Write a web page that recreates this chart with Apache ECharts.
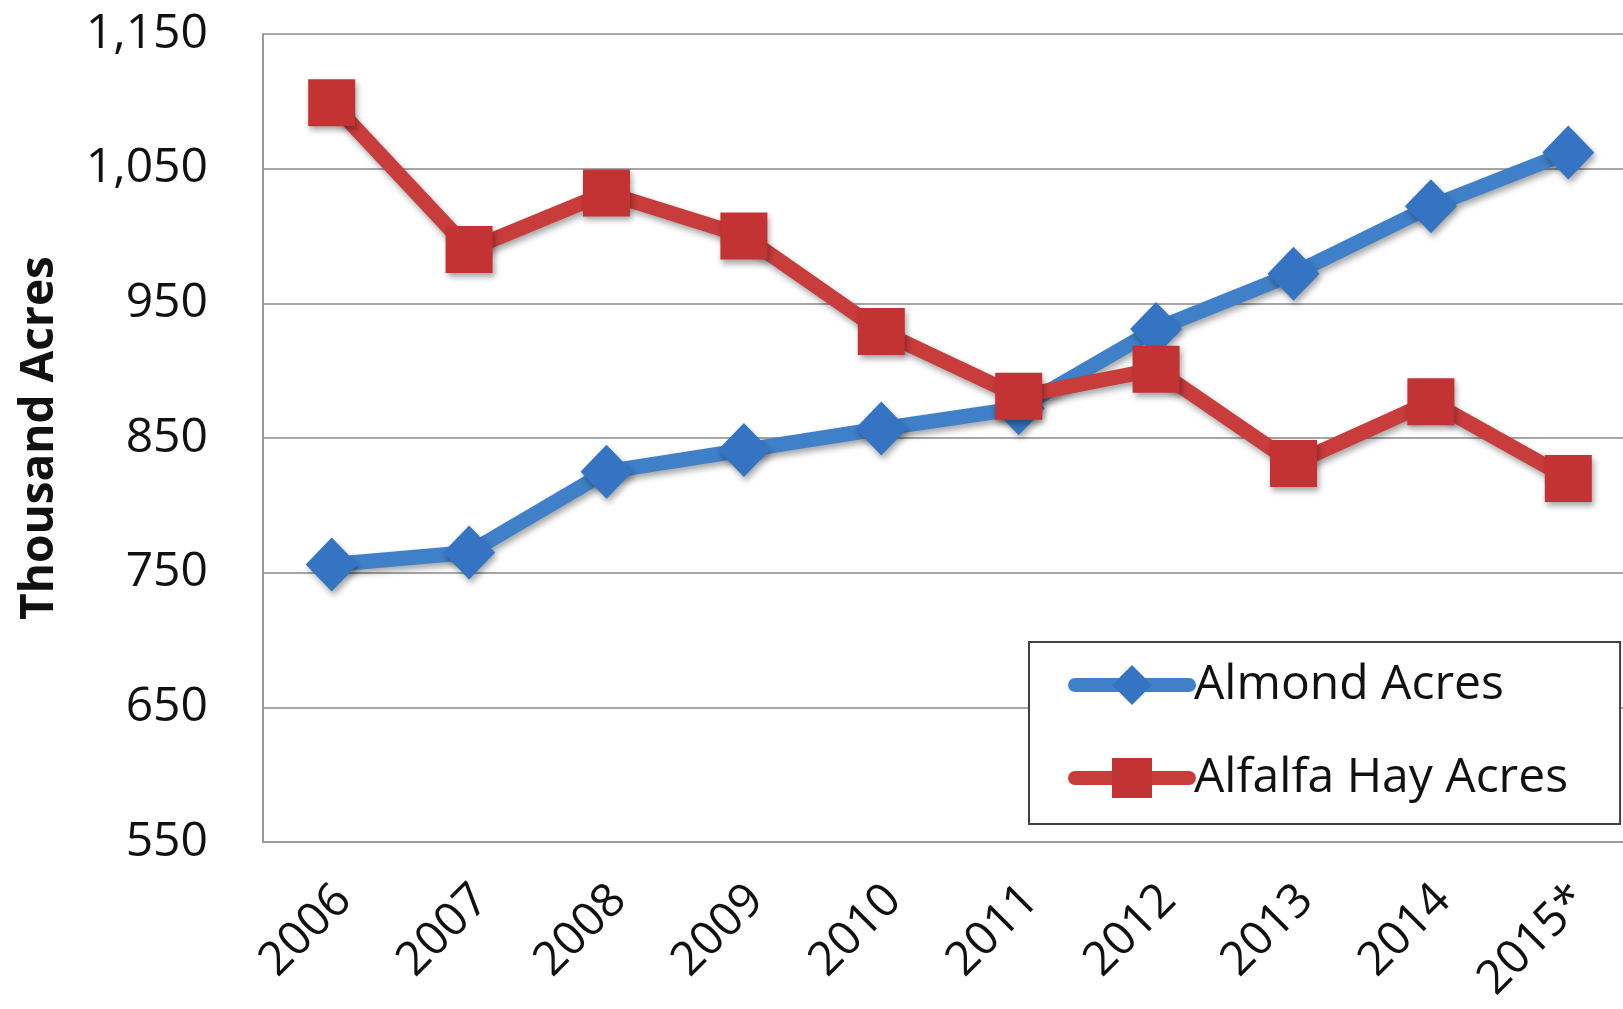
<!DOCTYPE html>
<html>
<head>
<meta charset="utf-8">
<script src="https://cdn.jsdelivr.net/npm/echarts@6/dist/echarts.min.js"></script>
<style>
  html, body { margin: 0; padding: 0; background: #fff; }
  #chart { width: 1623px; height: 1009px; }
</style>
</head>
<body>
<div id="chart"></div>
<script>
var years = ['2006', '2007', '2008', '2009', '2010', '2011', '2012', '2013', '2014', '2015*'];
var almondAcres = [756, 765, 825, 841, 857, 872, 931, 972, 1022, 1062];
var alfalfaAcres = [1099, 990, 1032, 1000, 929, 881, 901, 831, 877, 820];
var yTicks = [550, 650, 750, 850, 950, 1050, 1150];

var font = '"Open Sans", sans-serif';
var shadow = { shadowBlur: 6, shadowColor: 'rgba(0,0,0,0.35)', shadowOffsetX: 2, shadowOffsetY: 4 };

var myChart = echarts.init(document.getElementById('chart'));
var option = {
  backgroundColor: '#fff',
  animation: false,
  grid: {
    left: 263,
    top: 34,
    width: 1374,
    height: 808,
    outerBoundsMode: 'none'
  },
  legend: {
    orient: 'vertical',
    left: 1029,
    top: 642,
    backgroundColor: '#fff',
    borderColor: '#404040',
    borderWidth: 2,
    padding: [19, 52, 22, 39],
    itemGap: 45,
    itemWidth: 114,
    itemHeight: 50,
    lineStyle: { width: 14, cap: 'round' },
    textStyle: { fontFamily: font, fontSize: 48, color: '#111' },
    data: ['Almond Acres', 'Alfalfa Hay Acres']
  },
  xAxis: {
    type: 'category',
    data: years,
    axisLine: { lineStyle: { color: '#9a9a9a', width: 2 } },
    axisTick: { alignWithLabel: true, length: 12, lineStyle: { color: '#9a9a9a', width: 2 } },
    axisLabel: {
      rotate: 45,
      margin: 30,
      verticalAlign: 'top',
      padding: [0, 6, 0, 0],
      fontFamily: font,
      fontSize: 47,
      color: '#111'
    }
  },
  yAxis: {
    type: 'value',
    min: yTicks[0],
    max: yTicks[yTicks.length - 1],
    interval: 100,
    name: 'Thousand Acres',
    nameLocation: 'middle',
    nameRotate: 90,
    nameGap: 200,
    nameTextStyle: { fontFamily: font, fontSize: 46, fontWeight: 'bold', color: '#111' },
    axisLine: { show: true, lineStyle: { color: '#9a9a9a', width: 2 } },
    axisTick: { show: false },
    splitLine: { lineStyle: { color: '#a6a6a6', width: 2 } },
    axisLabel: {
      margin: 55,
      fontFamily: font,
      fontSize: 48,
      color: '#111',
      formatter: function (v) { return v.toLocaleString('en-US'); }
    }
  },
  series: [
    {
      name: 'Almond Acres',
      type: 'line',
      data: almondAcres,
      symbol: 'diamond',
      symbolSize: [52, 54],
      lineStyle: Object.assign({ color: '#4080c8', width: 15 }, shadow),
      itemStyle: Object.assign({ color: '#3474c2' }, shadow),
      z: 2
    },
    {
      name: 'Alfalfa Hay Acres',
      type: 'line',
      data: alfalfaAcres,
      symbol: 'rect',
      symbolSize: 47,
      lineStyle: Object.assign({ color: '#c93c3c', width: 15 }, shadow),
      itemStyle: Object.assign({ color: '#c43333', borderRadius: 3 }, shadow),
      z: 3
    }
  ]
};
myChart.setOption(option);
window.addEventListener('resize', function () {
  myChart.resize();
});
</script>
</body>
</html>
